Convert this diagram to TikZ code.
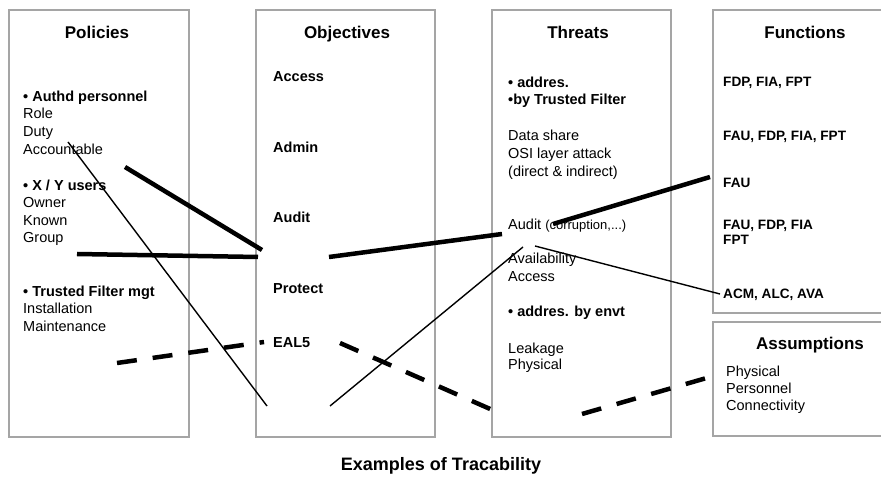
\documentclass[tikz,border=0pt]{standalone}
\usepackage{fontspec}
\setmainfont{Liberation Sans}
\definecolor{boxgray}{RGB}{165,165,165}
\begin{document}
\begin{tikzpicture}[x=1pt,y=-1pt,
  box/.style={draw=boxgray, line width=1.2pt, inner sep=0pt},
  body/.style={anchor=base west, inner sep=0pt, font=\fontsize{14.5}{17}\selectfont},
  bbody/.style={anchor=base west, inner sep=0pt, font=\fontsize{14.5}{17}\selectfont\bfseries},
  ttl/.style={anchor=base, inner sep=0pt, font=\fontsize{17}{20}\selectfont\bfseries},
  fn/.style={anchor=base west, inner sep=0pt, font=\fontsize{13.6}{16}\selectfont\bfseries},
  thicklink/.style={line width=4.5pt},
  thinlink/.style={line width=1.4pt},
  dashlink/.style={line width=4.5pt, dash pattern=on 20pt off 16pt}]
\useasboundingbox (0,0) rectangle (881,478);
\fill[white] (0,0) rectangle (881,478);
% boxes
\node[box, minimum width=180pt, minimum height=427pt] (polbox) at (99,223.5) {};
\node[box, minimum width=179pt, minimum height=427pt] (objbox) at (345.5,223.5) {};
\node[box, minimum width=179pt, minimum height=427pt] (thrbox) at (581.5,223.5) {};
\node[box, minimum width=175pt, minimum height=303pt] (funbox) at (800.5,161.5) {};
\node[box, minimum width=175pt, minimum height=114pt] (assbox) at (800.5,379) {};
% titles
\node[ttl] (poltitle) at (97,39) {Policies};
\node[ttl] (objtitle) at (347,39) {Objectives};
\node[ttl] (thrtitle) at (578,39) {Threats};
\node[ttl] (funtitle) at (805,39) {Functions};
\node[ttl] (asstitle) at (810,349) {Assumptions};
% policies
\node[bbody] (p1) at (23,102) {• Authd personnel};
\node[body] (p2) at (23,119) {Role};
\node[body] (p3) at (23,137) {Duty};
\node[body] (p4) at (23,155) {Accountable};
\node[bbody] (p5) at (23,191) {• X / Y users};
\node[body] (p6) at (23,208) {Owner};
\node[body] (p7) at (23,226) {Known};
\node[body] (p8) at (23,243) {Group};
\node[bbody] (p9) at (23,297) {• Trusted Filter mgt};
\node[body] (p10) at (23,314) {Installation};
\node[body] (p11) at (23,331) {Maintenance};
% objectives
\node[bbody] (o1) at (273,82) {Access};
\node[bbody] (o2) at (273,153) {Admin};
\node[bbody] (o3) at (273,223) {Audit};
\node[bbody] (o4) at (273,294) {Protect};
\node[bbody] (o5) at (273,348) {EAL5};
% threats
\node[bbody] (t1) at (508,88) {• addres.};
\node[bbody] (t2) at (508,105) {•by Trusted Filter};
\node[body] (t3) at (508,141) {Data share};
\node[body] (t4) at (508,159) {OSI layer attack};
\node[body] (t5) at (508,177) {(direct \& indirect)};
\node[body] (t6) at (508,230) {Audit {\fontsize{13}{16}\selectfont(corruption,...)}};
\node[body] (t7) at (508,264) {Availability};
\node[body] (t8) at (508,282) {Access};
\node[bbody] (t9) at (508,317) {• addres. by envt};
\node[body] (t10) at (508,353) {Leakage};
\node[body] (t11) at (508,370) {Physical};
% functions
\node[fn] (f1) at (723,87) {FDP, FIA, FPT};
\node[fn] (f2) at (723,141) {FAU, FDP, FIA, FPT};
\node[fn] (f3) at (723,188) {FAU};
\node[fn] (f4) at (723,230) {FAU, FDP, FIA};
\node[fn] (f5) at (723,245) {FPT};
\node[fn] (f6) at (723,299) {ACM, ALC, AVA};
% assumptions
\node[body] (a1) at (726,376) {Physical};
\node[body] (a2) at (726,393) {Personnel};
\node[body] (a3) at (726,410) {Connectivity};
% caption
\node[anchor=base, inner sep=0pt, font=\fontsize{18}{21}\selectfont\bfseries] (caption) at (441,470) {Examples of Tracability};
% link end points
\coordinate (l1a) at (68,142);  \coordinate (l1b) at (267,406);
\coordinate (l2a) at (125,167); \coordinate (l2b) at (262,250);
\coordinate (l3a) at (77,254);  \coordinate (l3b) at (258,257);
\coordinate (l4a) at (329,257); \coordinate (l4b) at (502,234);
\coordinate (l5a) at (553,224); \coordinate (l5b) at (710,177);
\coordinate (l6a) at (330,406); \coordinate (l6b) at (523,247);
\coordinate (l7a) at (535,246); \coordinate (l7b) at (720,294);
\coordinate (l8a) at (117,363); \coordinate (l8b) at (264,342);
\coordinate (l9a) at (340,343); \coordinate (l9b) at (497,412);
\coordinate (l10a) at (582,414); \coordinate (l10b) at (710,377);
% links
\draw[thinlink] (l1a) -- (l1b);
\draw[thicklink] (l2a) -- (l2b);
\draw[thicklink] (l3a) -- (l3b);
\draw[thicklink] (l4a) -- (l4b);
\draw[thicklink] (l5a) -- (l5b);
\draw[thinlink] (l6a) -- (l6b);
\draw[thinlink] (l7a) -- (l7b);
\draw[dashlink] (l8a) -- (l8b);
\draw[dashlink] (l9a) -- (l9b);
\draw[dashlink] (l10a) -- (l10b);
\end{tikzpicture}
\end{document}
